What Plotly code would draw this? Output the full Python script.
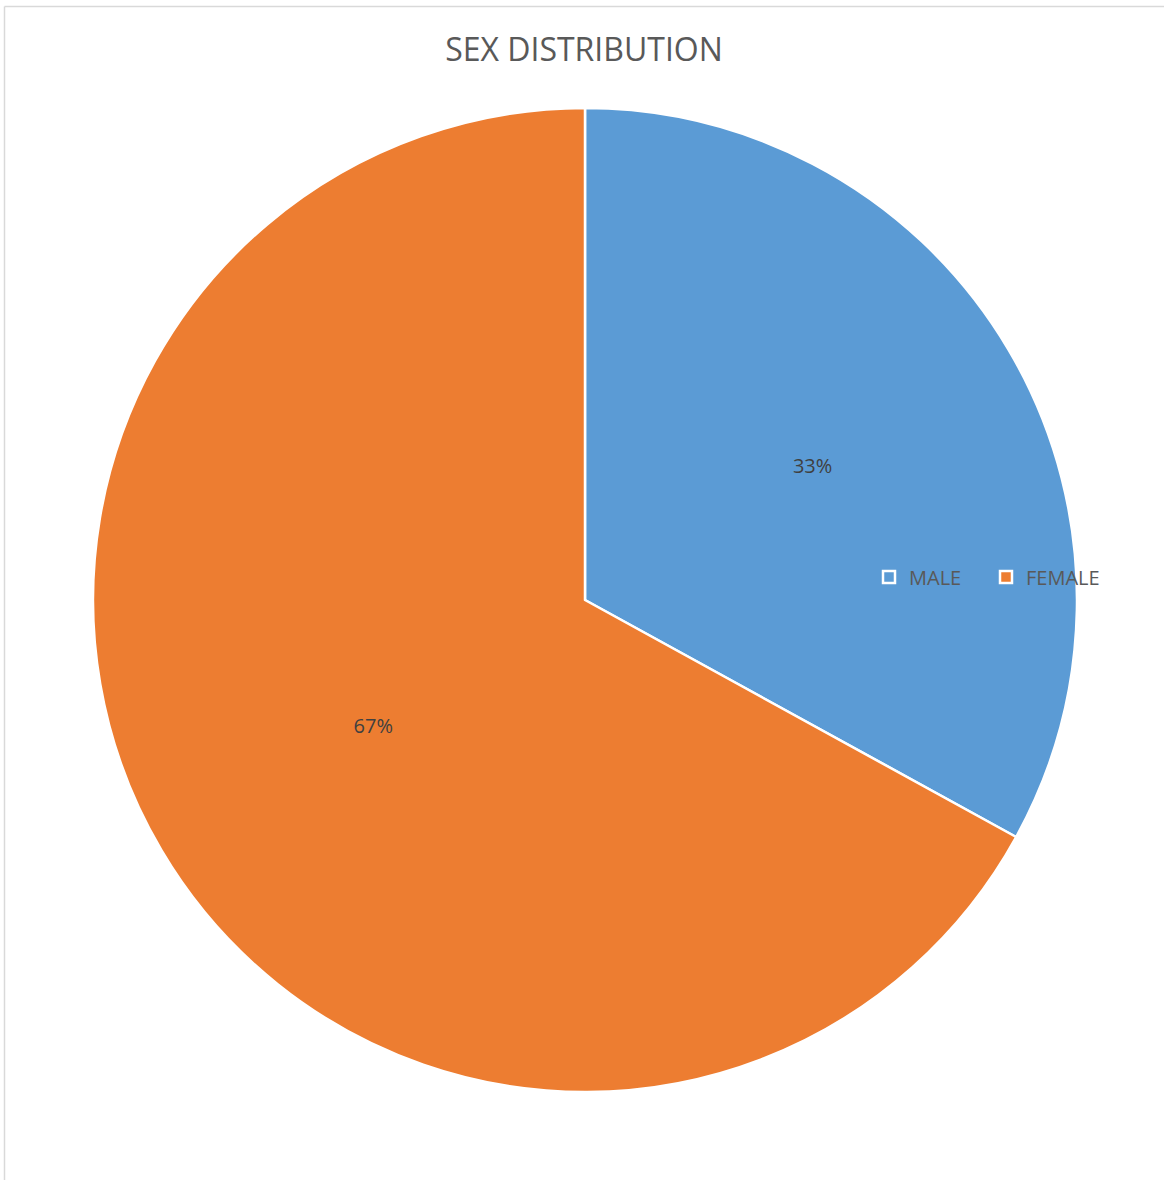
import plotly.graph_objects as go

labels = ["MALE", "FEMALE"]
values = [33, 67]
colors = ["#5B9BD5", "#ED7D31"]

W, H = 1164, 1180
FONT = "Open Sans, Noto Sans, sans-serif"

fig = go.Figure(
    go.Pie(
        labels=labels,
        values=values,
        sort=False,
        direction="clockwise",
        rotation=0,
        marker=dict(colors=colors, line=dict(color="#FFFFFF", width=2.5)),
        textinfo="percent",
        texttemplate="%{percent:.0%}",
        textposition="inside",
        insidetextorientation="horizontal",
        textfont=dict(family=FONT, size=20, color="#404040"),
        domain=dict(x=[93 / W, 1077 / W], y=[88 / H, 1072 / H]),
        hoverinfo="label+percent",
    )
)

# light chart-area frame along the left and top edges
frame = dict(color="#D9D9D9", width=1.5)
fig.add_shape(type="line", xref="paper", yref="paper",
              x0=4.5 / W, x1=4.5 / W, y0=0, y1=1 - 6.5 / H, line=frame)
fig.add_shape(type="line", xref="paper", yref="paper",
              x0=4.5 / W, x1=1, y0=1 - 6.5 / H, y1=1 - 6.5 / H, line=frame)

fig.update_layout(
    width=W,
    height=H,
    margin=dict(l=0, r=0, t=0, b=0, autoexpand=False),
    paper_bgcolor="#FFFFFF",
    plot_bgcolor="#FFFFFF",
    title=dict(
        text="SEX DISTRIBUTION",
        x=584 / W,
        xanchor="center",
        y=1 - 50 / H,
        yanchor="middle",
        font=dict(family=FONT, size=32, color="#595959"),
    ),
    showlegend=True,
    legend=dict(
        orientation="h",
        x=869 / W,
        xanchor="left",
        y=1 - 577 / H,
        yanchor="middle",
        bgcolor="rgba(0,0,0,0)",
        font=dict(family=FONT, size=20, color="#595959"),
        itemwidth=30,
        entrywidth=72,
        entrywidthmode="pixels",
    ),
)

fig.write_html("out.html")
